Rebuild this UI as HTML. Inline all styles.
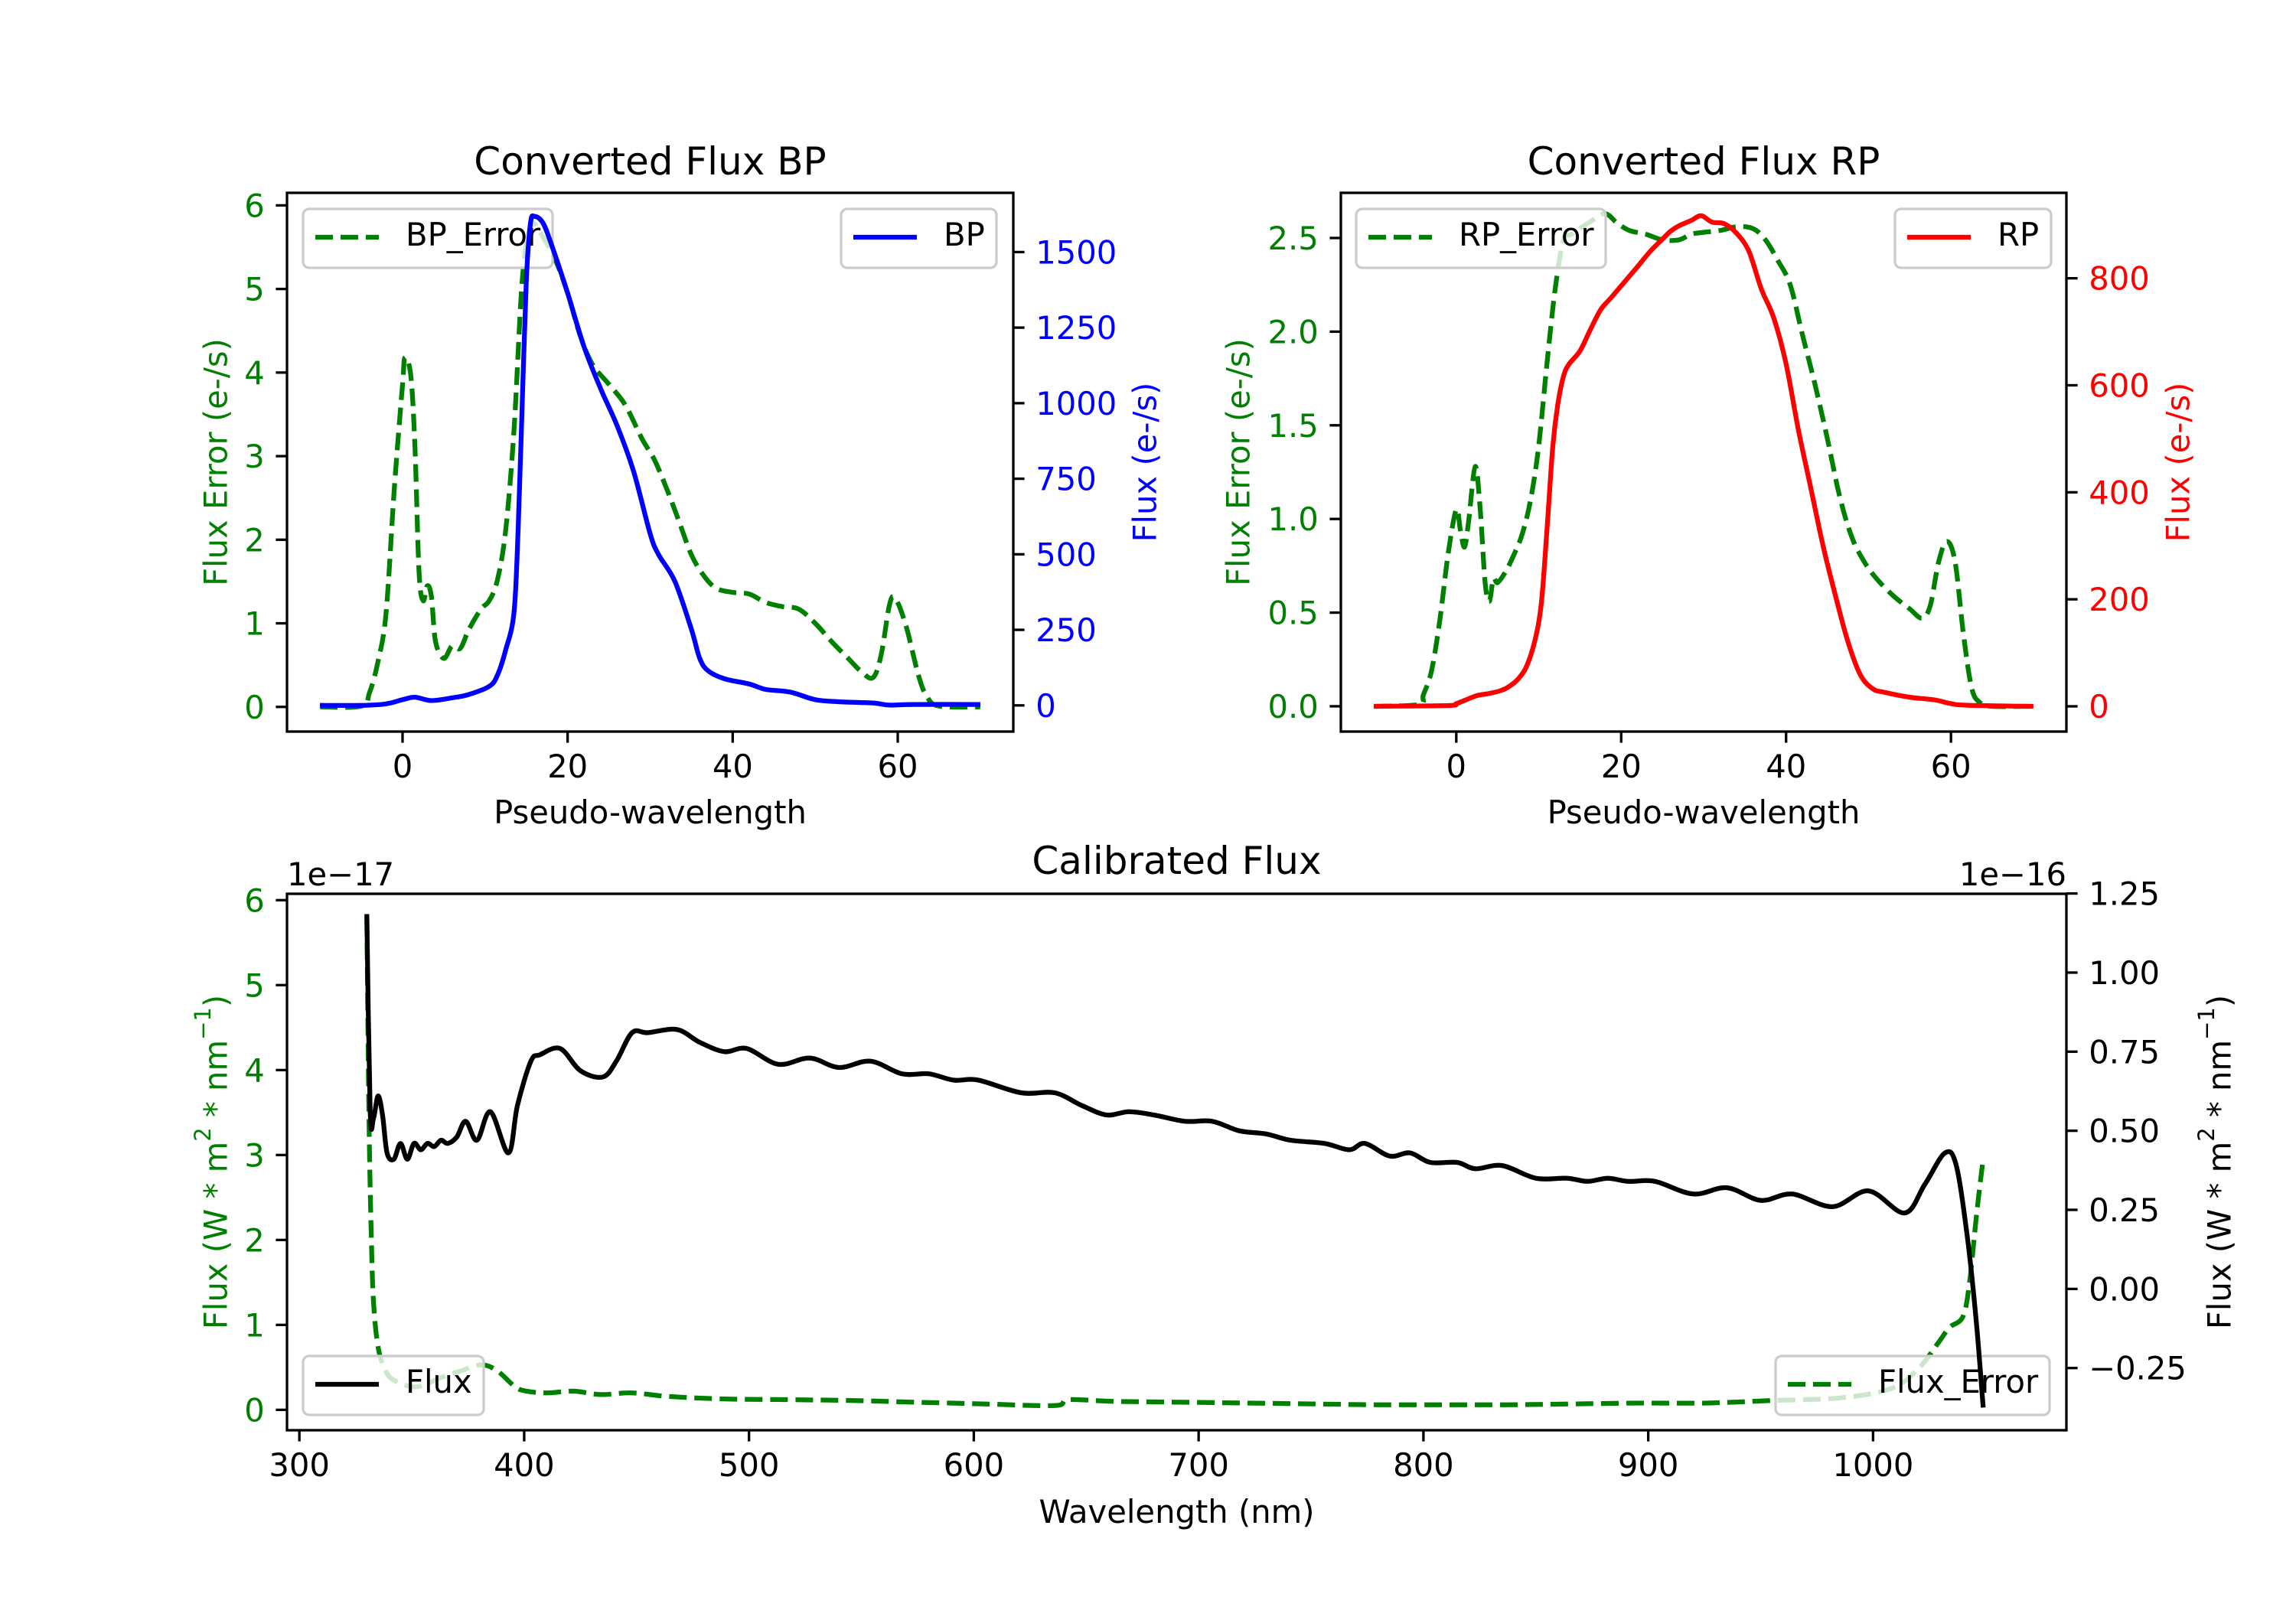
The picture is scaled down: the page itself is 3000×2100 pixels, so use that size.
<!DOCTYPE html>
<html><head><meta charset="utf-8">
<style>
html,body{margin:0;padding:0;background:#fff;}
svg{display:block;font-family:"DejaVu Sans","Liberation Sans",sans-serif;}
</style></head>
<body>
<svg id="fig" width="3000" height="2100" viewBox="0 0 3000 2100" xmlns="http://www.w3.org/2000/svg">
<rect width="3000" height="2100" fill="#fff"/>
</svg>
<script>
// ---------- BP panel data ----------
const bpX = [-10,-5,-2,0,1.5,3.5,6,8,10.5,11.5,12.5,13.5,14,14.5,15,15.5,16,17,18,20,22,24,26,28,30,31,33,35,36,37,39,42,44,47,50,53,57,59,62,70];
const bpFlux = [0,0,5,19,27,16,25,36,63,100,184,307,582,994,1405,1595,1618,1597,1528,1364,1186,1048,925,774,568,500,410,252,156,115,88,71,53,44,19,12,8,1,3,3];
const bpErrX = [-10,-5,-4,-3,-2,-1,0,0.3,1,1.5,2,2.5,3,3.5,4,5,6,7,8,9.5,10.5,11.5,12.5,13.5,14.5,15.5,16.5,18.5,20,21.5,23,25,27,29,30.5,32,33.5,35,36.5,38,40,42,44,46,48,50,52,54,55.5,57,58,59,59.7,61,62.5,63.5,65,70];
const bpErr = [0,0.01,0.17,0.53,1.12,2.61,3.86,4.18,3.96,3.11,1.62,1.27,1.45,1.32,0.78,0.58,0.73,0.70,0.92,1.17,1.27,1.52,2.12,3.31,5.10,5.75,5.70,5.35,4.95,4.45,4.10,3.86,3.61,3.21,2.96,2.61,2.22,1.82,1.57,1.42,1.37,1.35,1.25,1.20,1.17,1.00,0.78,0.58,0.43,0.35,0.63,1.22,1.30,0.97,0.38,0.13,0.01,0];
// ---------- RP panel data ----------
const rpX = [-10,-1,0,1,2.5,4,5.5,6.5,7.5,8.5,9.5,10.3,11,11.7,12.3,13,13.7,15,16.2,17.5,18.8,20.5,22,23.5,25,26,27,28.5,29.7,31,32.5,34,35.5,37,38.5,40,41.5,43,44.5,46,47.5,49,50.5,52,55,58,60,62,70];
const rpFlux = [0,1.5,5,11,20,24,30,38,51,74,121,191,330,485,563,617,640,664,702,741,764,795,822,850,873,888,898,908,917,905,902,884,850,780,726,640,516,408,299,206,121,59,33,26,17,12,5,2,0];
const rpErrX = [-10,-4.5,-4,-3,-2,-1,0,0.5,1,1.5,2.3,2.9,3.5,4,4.5,5,6,7,8,9,10,11,12,13,14,16,18,19.5,21,23,25,27,28.5,30,32,34,36,37.5,39,40.5,42,43.5,45,46.5,48,49.5,51,53,55,56.5,57.5,58.5,59.5,60.5,61.5,62.5,63.5,65,70];
const rpErr = [0,0.01,0.06,0.19,0.46,0.81,1.05,0.94,0.85,0.99,1.28,1.05,0.66,0.56,0.68,0.66,0.72,0.81,0.92,1.10,1.39,1.83,2.23,2.49,2.52,2.58,2.63,2.58,2.54,2.52,2.49,2.49,2.52,2.53,2.54,2.56,2.55,2.49,2.38,2.25,1.98,1.72,1.43,1.12,0.90,0.77,0.68,0.59,0.52,0.47,0.54,0.77,0.88,0.77,0.39,0.10,0.02,0,0];
// ---------- Calibrated panel data ----------
const calX = [330,331.5,333,335,337,339,342,345,348,351,354,357,360,363,366,370,374,379,385,393,397,403,407,416,425,435,441,448,455,468,478,489,499,513,527,540,554,568,580,591,602,621,636,648,659,669,680,694,706,718,730,741,756,767,774,785,794,803,815,823,835,850,864,873,882,891,903,920,935,950,964,982,998,1014,1023,1032,1037,1042,1046,1049];
const calFlux = [1.185,0.56,0.54,0.61,0.55,0.43,0.41,0.46,0.41,0.46,0.44,0.46,0.45,0.47,0.46,0.48,0.53,0.47,0.56,0.43,0.58,0.72,0.74,0.76,0.69,0.67,0.72,0.81,0.81,0.82,0.78,0.75,0.76,0.71,0.73,0.70,0.72,0.68,0.68,0.66,0.66,0.62,0.62,0.58,0.55,0.56,0.55,0.53,0.53,0.50,0.49,0.47,0.46,0.44,0.46,0.42,0.43,0.40,0.40,0.38,0.39,0.35,0.35,0.34,0.35,0.34,0.34,0.30,0.32,0.28,0.30,0.26,0.31,0.24,0.33,0.43,0.39,0.16,-0.11,-0.375];
const calErrX = [330,331,332,333,335,338,342,352,363,372,381,388,396,401,410,422,434,448,463,486,516,545,574,604,636,642,662,692,721,750,779,809,838,867,897,926,955,985,1008,1020,1029,1034,1040,1043,1046,1049];
const calErr = [5.8,3.38,2.03,1.26,0.74,0.48,0.35,0.27,0.38,0.46,0.53,0.46,0.27,0.22,0.20,0.22,0.18,0.20,0.16,0.13,0.12,0.11,0.09,0.07,0.05,0.12,0.10,0.09,0.08,0.07,0.06,0.06,0.06,0.07,0.08,0.08,0.11,0.14,0.25,0.48,0.79,0.97,1.10,1.52,2.29,2.96];
// ---------- tick labels ----------
const pseudoTicks = [0,20,40,60];
const bpErrTicks = [0,1,2,3,4,5,6];
const bpFluxTicks = [0,250,500,750,1000,1250,1500];
const rpErrTicks = [0,0.5,1.0,1.5,2.0,2.5];
const rpFluxTicks = [0,200,400,600,800];
const wlTicks = [300,400,500,600,700,800,900,1000];
const calErrTicks = [0,1,2,3,4,5,6];
const calFluxTicks = [-0.25,0,0.25,0.5,0.75,1.0,1.25];

const NS = "http://www.w3.org/2000/svg";
const svg = document.getElementById('fig');
function mk(tag, attrs, parent) {
  const e = document.createElementNS(NS, tag);
  for (const k in attrs) e.setAttribute(k, attrs[k]);
  (parent || svg).appendChild(e);
  return e;
}
function txt(s, attrs, name) {
  const e = mk('text', Object.assign({'font-size': 41.7, fill: '#000'}, attrs));
  e.textContent = s;
  
  
  return e;
}
function fmt(v, d) { const s = v.toFixed(d); return s.replace('-', '\u2212'); }
const G = '#008000';

function scale(dmin, dmax, pmin, pmax) { return v => pmin + (v - dmin) / (dmax - dmin) * (pmax - pmin); }

function line(xs, ys, sx, sy, color, dashed, name, clipId) {
  const P = xs.map((x, i) => [sx(x), sy(ys[i])]);
  let d = 'M' + P[0][0].toFixed(1) + ',' + P[0][1].toFixed(1);
  for (let i = 0; i < P.length - 1; i++) {
    const p0 = P[Math.max(0, i - 1)], p1 = P[i], p2 = P[i + 1], p3 = P[Math.min(P.length - 1, i + 2)];
    const t = 0.5 / 3;
    const c1 = [p1[0] + (p2[0] - p0[0]) * t, p1[1] + (p2[1] - p0[1]) * t];
    const c2 = [p2[0] - (p3[0] - p1[0]) * t, p2[1] - (p3[1] - p1[1]) * t];
    d += 'C' + c1[0].toFixed(1) + ',' + c1[1].toFixed(1) + ' ' + c2[0].toFixed(1) + ',' + c2[1].toFixed(1) + ' ' + p2[0].toFixed(1) + ',' + p2[1].toFixed(1);
  }
  const p = mk('path', {d: d, fill: 'none', stroke: color, 'stroke-width': 6.25, 'stroke-linejoin': 'round', 'clip-path': 'url(#' + clipId + ')'});
  if (dashed) p.setAttribute('stroke-dasharray', '23,10');
  
  
}

function legend(x, y, w, label, color, dashed, name) {
  const g = mk('g', {});
  
  
  mk('rect', {x: x, y: y, width: w, height: 77, rx: 8, fill: '#fff', 'fill-opacity': 0.8, stroke: '#cccccc', 'stroke-width': 3.3}, g);
  const l = mk('line', {x1: x + 16, x2: x + 99, y1: y + 37, y2: y + 37, stroke: color, 'stroke-width': 6.25}, g);
  if (dashed) l.setAttribute('stroke-dasharray', '23,10');
  const t = mk('text', {x: x + 134, y: y + 48, 'font-size': 41.7, fill: '#000'}, g);
  t.textContent = label;
}

function axesFrame(x0, y0, x1, y1, name, clipId) {
  const cp = mk('clipPath', {id: clipId});
  mk('rect', {x: x0, y: y0, width: x1 - x0, height: y1 - y0}, cp);
}
function spines(x0, y0, x1, y1, name) {
  const r = mk('rect', {x: x0, y: y0, width: x1 - x0, height: y1 - y0, fill: 'none', stroke: '#000', 'stroke-width': 3.3});
  
  
}
function xTicks(ticks, sx, y1, dec, name) {
  ticks.forEach(t => {
    const x = sx(t);
    mk('line', {x1: x, x2: x, y1: y1, y2: y1 + 14.6, stroke: '#000', 'stroke-width': 3.3});
    txt(fmt(t, dec), {x: x, y: y1 + 60, 'text-anchor': 'middle'}, name);
  });
}
function yTicks(ticks, sy, x, side, dec, color, name) {
  ticks.forEach(t => {
    const y = sy(t);
    const dx = side === 'left' ? -14.6 : 14.6;
    mk('line', {x1: x, x2: x + dx, y1: y, y2: y, stroke: '#000', 'stroke-width': 3.3});
    txt(fmt(t, dec), {x: x + 2 * dx, y: y + 15, 'text-anchor': side === 'left' ? 'end' : 'start', fill: color}, name);
  });
}
function ylabel(s, x, yc, color, name) {
  const e = txt(s, {x: x, y: yc, 'text-anchor': 'middle', 'dominant-baseline': 'central', fill: color, transform: 'rotate(-90 ' + x + ' ' + yc + ')'}, name);
  return e;
}

// ===== Panel 1: BP =====
(function () {
  const x0 = 375, x1 = 1324, y0 = 252, y1 = 956;
  const sx = scale(-14, 74, x0, x1);
  const syL = scale(-0.295, 6.15, y1, y0);
  const syR = scale(-86.6, 1696, y1, y0);
  axesFrame(x0, y0, x1, y1, 'bp', 'clipBP');
  line(bpErrX, bpErr, sx, syL, G, true, 'bp-error-line', 'clipBP');
  legend(396, 273, 326, 'BP_Error', G, true, 'bp-error-legend');
  line(bpX, bpFlux, sx, syR, '#0000ff', false, 'bp-flux-line', 'clipBP');
  legend(1099, 273, 203, 'BP', '#0000ff', false, 'bp-legend');
  spines(x0, y0, x1, y1, 'bp-axes-frame');
  xTicks(pseudoTicks, sx, y1, 0, 'bp-x-tick-label');
  yTicks(bpErrTicks, syL, x0, 'left', 0, G, 'bp-left-tick-label');
  yTicks(bpFluxTicks, syR, x1, 'right', 0, '#0000ff', 'bp-right-tick-label');
  txt('Converted Flux BP', {x: (x0 + x1) / 2, y: 228, 'text-anchor': 'middle', 'font-size': 50}, 'bp-title');
  txt('Pseudo-wavelength', {x: (x0 + x1) / 2, y: 1076, 'text-anchor': 'middle'}, 'bp-x-axis-title');
  ylabel('Flux Error (e-/s)', 282, (y0 + y1) / 2, G, 'bp-left-axis-title');
  ylabel('Flux (e-/s)', 1496, (y0 + y1) / 2, '#0000ff', 'bp-right-axis-title');
})();

// ===== Panel 2: RP =====
(function () {
  const x0 = 1752, x1 = 2700, y0 = 252, y1 = 956;
  const sx = scale(-14, 74, x0, x1);
  const syL = scale(-0.135, 2.741, y1, y0);
  const syR = scale(-47.2, 959.7, y1, y0);
  axesFrame(x0, y0, x1, y1, 'rp', 'clipRP');
  line(rpErrX, rpErr, sx, syL, G, true, 'rp-error-line', 'clipRP');
  legend(1772, 273, 326, 'RP_Error', G, true, 'rp-error-legend');
  line(rpX, rpFlux, sx, syR, '#ff0000', false, 'rp-flux-line', 'clipRP');
  legend(2476, 273, 204, 'RP', '#ff0000', false, 'rp-legend');
  spines(x0, y0, x1, y1, 'rp-axes-frame');
  xTicks(pseudoTicks, sx, y1, 0, 'rp-x-tick-label');
  yTicks(rpErrTicks, syL, x0, 'left', 1, G, 'rp-left-tick-label');
  yTicks(rpFluxTicks, syR, x1, 'right', 0, '#ff0000', 'rp-right-tick-label');
  txt('Converted Flux RP', {x: (x0 + x1) / 2, y: 228, 'text-anchor': 'middle', 'font-size': 50}, 'rp-title');
  txt('Pseudo-wavelength', {x: (x0 + x1) / 2, y: 1076, 'text-anchor': 'middle'}, 'rp-x-axis-title');
  ylabel('Flux Error (e-/s)', 1618, (y0 + y1) / 2, G, 'rp-left-axis-title');
  ylabel('Flux (e-/s)', 2846, (y0 + y1) / 2, '#ff0000', 'rp-right-axis-title');
})();

// ===== Panel 3: Calibrated =====
(function () {
  const x0 = 375, x1 = 2700, y0 = 1168, y1 = 1869;
  const sx = scale(294.5, 1086, x0, x1);
  const syL = scale(-0.24, 6.075, y1, y0);
  const syR = scale(-0.4466, 1.249, y1, y0);
  axesFrame(x0, y0, x1, y1, 'cal', 'clipCal');
  line(calErrX, calErr, sx, syL, G, true, 'calibrated-error-line', 'clipCal');
  legend(396, 1772, 236, 'Flux', '#000', false, 'flux-legend');
  legend(2320, 1772, 358, 'Flux_Error', G, true, 'flux-error-legend');
  line(calX, calFlux, sx, syR, '#000', false, 'calibrated-flux-line', 'clipCal');
  spines(x0, y0, x1, y1, 'calibrated-axes-frame');
  xTicks(wlTicks, sx, y1, 0, 'calibrated-x-tick-label');
  yTicks(calErrTicks, syL, x0, 'left', 0, G, 'calibrated-left-tick-label');
  yTicks(calFluxTicks, syR, x1, 'right', 2, '#000', 'calibrated-right-tick-label');
  txt('Calibrated Flux', {x: (x0 + x1) / 2, y: 1142, 'text-anchor': 'middle', 'font-size': 50}, 'calibrated-title');
  txt('1e\u221217', {x: x0, y: 1157, 'text-anchor': 'start'}, 'left-offset-text');
  txt('1e\u221216', {x: x1, y: 1157, 'text-anchor': 'end'}, 'right-offset-text');
  txt('Wavelength (nm)', {x: (x0 + x1) / 2, y: 1990, 'text-anchor': 'middle'}, 'calibrated-x-axis-title');
  const yc = (y0 + y1) / 2;
  const l1 = ylabel('', 282, yc, G, 'calibrated-left-axis-title');
  l1.innerHTML = 'Flux (W * m<tspan baseline-shift="super" font-size="29">2</tspan> * nm<tspan baseline-shift="super" font-size="29">\u22121</tspan>)';
  const l2 = ylabel('', 2900, yc, '#000', 'calibrated-right-axis-title');
  l2.innerHTML = 'Flux (W * m<tspan baseline-shift="super" font-size="29">2</tspan> * nm<tspan baseline-shift="super" font-size="29">\u22121</tspan>)';
})();
</script>
</body></html>
